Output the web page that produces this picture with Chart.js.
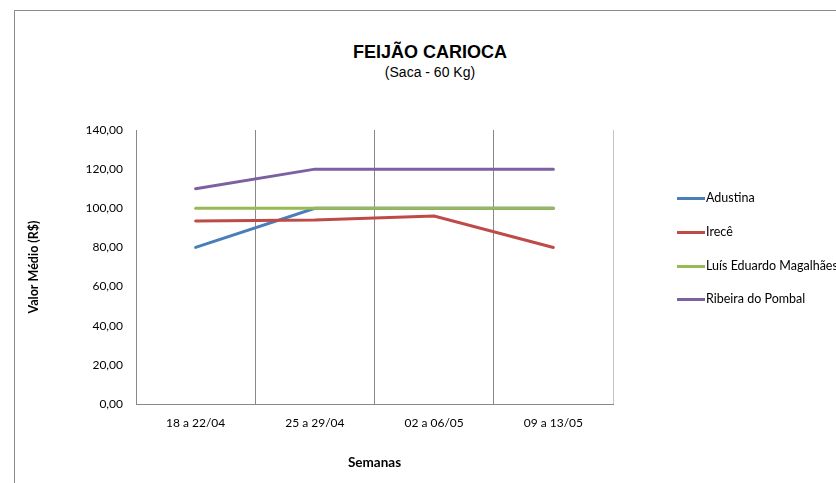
<!DOCTYPE html>
<html>
<head>
<meta charset="utf-8">
<script src="https://cdn.jsdelivr.net/npm/chart.js@4/dist/chart.umd.min.js"></script>
<style>
  html, body { margin: 0; padding: 0; width: 836px; height: 483px; overflow: hidden; background: #fff; }
  #frame { position: absolute; left: 14px; top: 10px; width: 1000px; height: 1000px; border: 1px solid #8c8c8c; }
  #wrap { position: absolute; left: 0; top: 0; width: 836px; height: 483px; }
  .ttl { position: absolute; left: 230px; width: 400px; text-align: center; color: #000; font-family: "Liberation Sans", Arial, sans-serif; white-space: nowrap; }
  #title { top: 42px; font-size: 18px; font-weight: bold; line-height: 20px; }
  #subtitle { top: 64px; font-size: 14px; line-height: 16px; }
  #legend { position: absolute; left: 677px; top: 0; white-space: nowrap; font-family: Lato, "Open Sans", sans-serif; font-size: 12.5px; color: #000; }
  .item { position: absolute; left: 0; height: 16px; }
  .swatch { position: absolute; left: 0; top: 7px; width: 28px; height: 3px; }
  .label { position: absolute; left: 29px; top: 0; line-height: 16px; }
</style>
</head>
<body>
<div id="frame"></div>
<div id="title" class="ttl">FEIJÃO CARIOCA</div>
<div id="subtitle" class="ttl">(Saca - 60 Kg)</div>
<div id="wrap"><canvas id="chart" width="836" height="483"></canvas></div>
<div id="legend"></div>
<script>
var weeks = ['18 a 22/04', '25 a 29/04', '02 a 06/05', '09 a 13/05'];
var seriesNames = ['Adustina', 'Irecê', 'Luís Eduardo Magalhães', 'Ribeira do Pombal'];
var adustina = [80, 100, 100, 100];
var irece = [93.5, 94, 96, 80];
var lem = [100, 100, 100, 100];
var ribeira = [110, 120, 120, 120];
var colors = ['#4a7ebb', '#be4b48', '#98b954', '#7d60a0'];

var values = [adustina, irece, lem, ribeira];
// later series drawn on top, like the original
var datasets = seriesNames.map(function (name, i) {
    return {
        label: name, data: values[i], borderColor: colors[i], backgroundColor: colors[i],
        borderWidth: 3, pointRadius: 0, tension: 0, borderCapStyle: 'round',
        order: seriesNames.length - i
    };
});

// legend drawn as html, built from the same series
var legendTops = [190, 224, 258, 291];
seriesNames.forEach(function (name, i) {
    var item = el('div', 'item');
    item.style.top = legendTops[i] + 'px';
    var sw = el('div', 'swatch');
    sw.style.background = colors[i];
    var lb = el('div', 'label');
    lb.textContent = name;
    item.appendChild(sw);
    item.appendChild(lb);
    document.getElementById('legend').appendChild(item);
});
function el(tag, cls) { var d = document.createElement(tag); d.className = cls; return d; }

var tickFont = { family: 'Lato, "Open Sans", sans-serif', size: 12 };

new Chart(document.getElementById('chart'), {
    type: 'line',
    data: { labels: weeks, datasets: datasets },
    options: {
        responsive: false,
        animation: false,
        layout: { padding: { left: 0, right: 223, top: 130, bottom: 0 } },
        plugins: {
            legend: { display: false },
            tooltip: { enabled: false }
        },
        scales: {
            x: {
                offset: true,
                afterFit: function (s) { s.height = 79; },
                grid: {
                    offset: true, drawTicks: false, lineWidth: 1,
                    color: function (c) { return c.type === 'tick' ? '#888888' : '#c4c4c4'; }
                },
                border: { display: true, color: '#888888', width: 1 },
                ticks: { color: '#000', font: tickFont, padding: 12 },
                title: {
                    display: true, text: 'Semanas', color: '#000',
                    font: { family: 'Lato, "Open Sans", sans-serif', size: 13.5, weight: 'bold' },
                    padding: { top: 0, bottom: 12 }
                }
            },
            y: {
                min: 0, max: 140,
                afterFit: function (s) { s.width = 136; },
                grid: { display: false, drawTicks: false },
                border: { display: true, color: '#888888', width: 1 },
                ticks: {
                    stepSize: 20, color: '#000', font: tickFont, padding: 13,
                    callback: function (v) { return v.toFixed(2).replace('.', ','); }
                },
                title: {
                    display: true, text: 'Valor Médio (R$)', color: '#000',
                    font: { family: 'Lato, "Open Sans", sans-serif', size: 12.5, weight: 'bold' },
                    padding: { top: 26, bottom: 0 }
                }
            }
        }
    }
});
</script>
</body>
</html>
